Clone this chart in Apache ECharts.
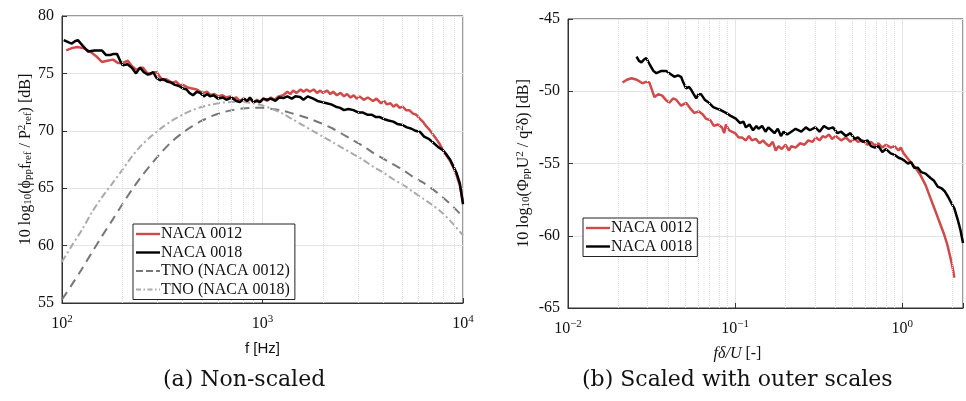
<!DOCTYPE html>
<html>
<head>
<meta charset="utf-8">
<script src="https://cdn.jsdelivr.net/npm/echarts@6/dist/echarts.min.js"></script>
<style>
  html, body { margin: 0; padding: 0; background: #fff; }
  #chart { width: 966px; height: 401px; }
</style>
</head>
<body>
<div id="chart"></div>
<script>
// (a) non-scaled spectra: [frequency Hz, dB]
var naca0012 = [
  [105, 77.0], [112, 77.2], [119, 77.3], [128, 77.2], [138, 76.9], [148, 76.5], [158, 76.0], [168, 76.1],
  [180, 76.2], [190, 75.9], [200, 75.9], [213, 76.1], [224, 75.6], [236, 75.3], [245, 75.5], [253, 75.5],
  [264, 75.1], [275, 74.9], [286, 75.1], [297, 75.1], [308, 74.7], [319, 74.4], [330, 74.5], [345, 74.3],
  [357, 74.2], [370, 74.3], [385, 74.0], [401, 74.0], [420, 73.8], [440, 73.7], [450, 73.6], [470, 73.6],
  [490, 73.4], [505, 73.3], [530, 73.4], [550, 73.1], [575, 73.2], [600, 73.0], [630, 73.1], [660, 72.9],
  [690, 73.0], [712, 72.8], [740, 72.9], [770, 72.6], [800, 72.8], [836, 72.6], [870, 72.8], [900, 72.5],
  [940, 72.7], [970, 72.5], [1010, 72.8], [1055, 72.6], [1100, 72.9], [1150, 72.7], [1200, 73.0], [1270, 73.1],
  [1330, 73.4], [1380, 73.2], [1420, 73.5], [1480, 73.3], [1550, 73.6], [1600, 73.4], [1660, 73.6], [1720, 73.4],
  [1800, 73.6], [1870, 73.3], [1940, 73.5], [2000, 73.3], [2100, 73.5], [2180, 73.2], [2250, 73.4], [2350, 73.1],
  [2450, 73.3], [2550, 73.0], [2640, 73.2], [2750, 72.9], [2850, 73.1], [2950, 72.8], [3050, 73.0], [3200, 72.7],
  [3350, 72.9], [3560, 72.6], [3700, 72.8], [3900, 72.4], [4050, 72.6], [4170, 72.3], [4350, 72.4], [4500, 72.1],
  [4650, 72.3], [4830, 72.0], [5000, 72.1], [5200, 71.8], [5400, 71.8], [5630, 71.5], [5850, 71.4], [6050, 71.1],
  [6300, 70.8], [6550, 70.4], [6800, 70.1], [7070, 69.7], [7350, 69.3], [7620, 68.9], [7950, 68.3], [8300, 67.8],
  [8620, 67.4], [8950, 66.8], [9300, 66.1], [9650, 65.2], [10000, 63.8]
]
var naca0018 = [
  [102, 77.9], [108, 77.7], [112, 77.6], [116, 77.8], [120, 77.9], [127, 77.4], [135, 76.9], [145, 77.0],
  [158, 77.0], [166, 76.6], [174, 76.6], [181, 76.7], [188, 76.7], [195, 76.1], [201, 75.7], [212, 75.8],
  [223, 75.5], [234, 75.0], [245, 75.5], [256, 75.1], [268, 74.9], [285, 75.1], [296, 74.6], [308, 74.4],
  [320, 74.5], [334, 74.3], [350, 74.2], [366, 74.0], [383, 73.9], [401, 73.7], [418, 73.6], [432, 73.3],
  [450, 73.1], [470, 73.4], [488, 73.3], [510, 73.0], [530, 73.2], [547, 73.0], [570, 73.1], [600, 72.8],
  [635, 72.9], [660, 72.7], [700, 72.9], [740, 72.6], [772, 72.5], [810, 72.8], [840, 72.6], [865, 72.9],
  [900, 72.5], [940, 72.6], [970, 72.5], [1010, 72.8], [1055, 72.7], [1100, 72.8], [1160, 72.6], [1210, 72.9],
  [1270, 72.85], [1330, 73.0], [1400, 72.8], [1460, 73.0], [1540, 72.95], [1600, 72.7], [1680, 73.0], [1790, 72.8],
  [1880, 72.6], [1980, 72.5], [2090, 72.4], [2200, 72.3], [2320, 72.1], [2440, 72.0], [2550, 71.8], [2680, 71.9],
  [2840, 71.8], [3000, 71.6], [3150, 71.6], [3330, 71.4], [3500, 71.4], [3680, 71.2], [3850, 71.2], [4050, 71.0],
  [4250, 70.9], [4490, 70.8], [4700, 70.6], [5000, 70.5], [5250, 70.3], [5500, 70.2], [5800, 70.0], [6100, 69.9],
  [6400, 69.5], [6750, 69.3], [7070, 69.0], [7500, 68.6], [7950, 68.3], [8300, 67.9], [8620, 67.5], [8950, 66.9],
  [9300, 66.3], [9650, 65.4], [10000, 63.6]
]
var tno0012 = [
  [100, 55.3], [112, 56.6], [125, 57.9], [141, 59.4], [158, 60.8], [178, 62.2], [200, 63.6], [224, 64.9],
  [251, 66.1], [282, 67.2], [316, 68.2], [355, 69.1], [398, 69.8], [447, 70.4], [501, 70.9], [562, 71.3],
  [631, 71.6], [708, 71.8], [794, 71.95], [891, 72.0], [1000, 72.0], [1122, 71.9], [1259, 71.75], [1413, 71.5],
  [1585, 71.25], [1778, 70.95], [1995, 70.6], [2239, 70.2], [2512, 69.7], [2818, 69.2], [3162, 68.7], [3548, 68.1],
  [3981, 67.6], [4467, 67.1], [5012, 66.6], [5623, 66.0], [6310, 65.5], [7079, 64.9], [7943, 64.2], [8913, 63.4],
  [10000, 62.5]
]
var tno0018 = [
  [100, 58.6], [112, 60.0], [125, 61.3], [141, 62.9], [158, 64.2], [178, 65.4], [200, 66.6], [224, 67.8],
  [251, 68.8], [282, 69.6], [316, 70.3], [355, 70.9], [398, 71.4], [447, 71.8], [501, 72.1], [562, 72.3],
  [631, 72.45], [708, 72.5], [794, 72.5], [891, 72.4], [1000, 72.2], [1122, 71.9], [1259, 71.5], [1413, 71.0],
  [1585, 70.5], [1778, 70.0], [1995, 69.5], [2239, 69.0], [2512, 68.5], [2818, 68.0], [3162, 67.5], [3548, 66.9],
  [3981, 66.4], [4467, 65.8], [5012, 65.3], [5623, 64.7], [6310, 64.1], [7079, 63.5], [7943, 62.8], [8913, 61.9],
  [10000, 60.9]
]

// (b) scaled with outer scales: [f delta / U, dB]
var scaled0012 = [
  [0.0212, -49.4], [0.0225, -49.2], [0.0240, -49.1], [0.0258, -49.2], [0.0279, -49.45], [0.0292, -49.35],
  [0.0307, -49.4], [0.0318, -49.9], [0.0329, -50.4], [0.0347, -50.2], [0.0366, -50.3], [0.0385, -50.6],
  [0.0404, -50.8], [0.0425, -50.5], [0.0445, -50.6], [0.0475, -51.0], [0.0509, -50.8], [0.0540, -51.2],
  [0.0569, -51.5], [0.0608, -51.4], [0.0640, -51.6], [0.0670, -51.9], [0.0710, -52.0], [0.0746, -52.4],
  [0.0790, -52.3], [0.0834, -52.5], [0.0860, -52.9], [0.0881, -52.3], [0.0920, -52.7], [0.0955, -52.8],
  [0.100, -52.9], [0.105, -53.2], [0.110, -53.2], [0.116, -53.4], [0.121, -53.1], [0.126, -53.4],
  [0.133, -53.3], [0.140, -53.6], [0.147, -53.4], [0.152, -53.6], [0.160, -53.8], [0.168, -53.5],
  [0.175, -54.1], [0.182, -53.8], [0.190, -54.0], [0.200, -53.7], [0.210, -54.1], [0.217, -53.8],
  [0.230, -53.9], [0.245, -53.6], [0.260, -53.7], [0.274, -53.4], [0.290, -53.5], [0.305, -53.2],
  [0.320, -53.4], [0.335, -53.1], [0.346, -53.2], [0.365, -53.0], [0.380, -53.3], [0.400, -53.1],
  [0.431, -53.4], [0.460, -53.2], [0.490, -53.5], [0.520, -53.3], [0.543, -53.5], [0.580, -53.4],
  [0.620, -53.7], [0.650, -53.5], [0.685, -53.75], [0.720, -53.6], [0.760, -53.9], [0.800, -53.7],
  [0.853, -53.9], [0.900, -53.8], [0.950, -54.1], [0.980, -53.9], [1.02, -54.3], [1.07, -54.6],
  [1.12, -54.9], [1.20, -55.3], [1.285, -55.8], [1.38, -56.5], [1.476, -57.4], [1.58, -58.3],
  [1.69, -59.2], [1.78, -59.9], [1.86, -60.6], [1.95, -61.6], [2.01, -62.3], [2.05, -62.9]
]
var scaled0018 = [
  [0.0257, -47.6], [0.0266, -47.9], [0.0275, -48.0], [0.0285, -47.8], [0.0294, -47.7], [0.0310, -48.2],
  [0.0325, -48.6], [0.0338, -48.75], [0.0360, -48.6], [0.0387, -48.6], [0.0410, -48.8], [0.0433, -49.0],
  [0.0455, -48.9], [0.0475, -49.0], [0.0490, -49.4], [0.0509, -49.8], [0.0530, -49.7], [0.0546, -49.9],
  [0.0565, -50.2], [0.0585, -50.5], [0.0605, -50.2], [0.0625, -50.2], [0.0660, -50.6], [0.0698, -50.8],
  [0.0740, -51.1], [0.0778, -51.2], [0.0820, -51.3], [0.0881, -51.5], [0.0940, -51.7], [0.101, -51.9],
  [0.107, -52.2], [0.112, -52.1], [0.116, -52.5], [0.122, -52.3], [0.128, -52.7], [0.134, -52.4],
  [0.138, -52.6], [0.145, -52.4], [0.152, -52.8], [0.158, -52.5], [0.165, -52.7], [0.172, -52.9],
  [0.180, -52.6], [0.188, -53.1], [0.195, -52.8], [0.205, -53.0], [0.217, -52.8], [0.230, -52.6],
  [0.249, -52.8], [0.265, -52.5], [0.280, -52.7], [0.302, -52.5], [0.320, -52.8], [0.340, -52.4],
  [0.361, -52.6], [0.385, -52.5], [0.410, -52.9], [0.431, -52.8], [0.460, -53.1], [0.490, -52.9],
  [0.520, -53.3], [0.543, -53.2], [0.580, -53.5], [0.620, -53.4], [0.650, -53.8], [0.685, -53.9],
  [0.720, -53.8], [0.760, -54.2], [0.800, -54.0], [0.853, -54.3], [0.900, -54.4], [0.950, -54.6],
  [1.00, -54.7], [1.03, -54.8], [1.08, -55.0], [1.13, -54.9], [1.18, -55.3], [1.24, -55.3],
  [1.30, -55.6], [1.38, -55.7], [1.476, -56.0], [1.55, -56.2], [1.63, -56.6], [1.71, -56.7],
  [1.79, -56.9], [1.88, -57.3], [1.96, -57.7], [2.05, -58.1], [2.15, -58.9], [2.23, -59.6], [2.31, -60.5]
]

// minor (dotted) grid lines of the log axes
var minorLeft = [200, 300, 400, 500, 600, 700, 800, 900, 2000, 3000, 4000, 5000, 6000, 7000, 8000, 9000]
var minorRight = [0.02, 0.03, 0.04, 0.05, 0.06, 0.07, 0.08, 0.09, 0.2, 0.3, 0.4, 0.5, 0.6, 0.7, 0.8, 0.9, 2]

var serif = '"Liberation Serif", "DejaVu Serif", serif'
var red = '#cf4a4a'

// legend icons: plain line samples (solid, dashed, dash-dot)
var iconSolid = 'path://M0,0h24v2.4h-24z'
var iconDash = 'path://M0,0h7v2h-7z M10,0h7v2h-7z M20,0h4v2h-4z'
var iconDashDot = 'path://M0,0h5v2h-5z M7.5,0h1.5v2h-1.5z M11.5,0h5v2h-5z M19,0h1.5v2h-1.5z M23,0h1v2h-1z'

function powLabel(v) {
  var e = Math.log10(v)
  if (Math.abs(e - Math.round(e)) > 1e-6) return ''
  e = Math.round(e)
  return '{b|10}{s|' + (e < 0 ? '\u2212' + (-e) : e) + '}'
}
var powRich = {
  b: { fontFamily: serif, fontSize: 16, color: '#111', lineHeight: 20 },
  s: { fontFamily: serif, fontSize: 11, color: '#111', lineHeight: 20, verticalAlign: 'top', padding: [0, 0, 8, 0] }
}

function xLog(gridIndex, min, max, name, nameStyle) {
  return {
    type: 'log', logBase: 10, gridIndex: gridIndex, min: min, max: max,
    name: name, nameLocation: 'middle', nameGap: 38, nameTextStyle: nameStyle,
    axisLine: { show: true, lineStyle: { color: '#333', width: 1 } },
    axisTick: { show: true, inside: true, length: 5, lineStyle: { color: '#333' } },
    axisLabel: { formatter: powLabel, rich: powRich, margin: 11, showMaxLabel: true },
    splitLine: { show: true, lineStyle: { color: '#e4e4e4', width: 1 } }
  }
}
function yVal(gridIndex, min, max, name, nameStyle, gap) {
  return {
    type: 'value', gridIndex: gridIndex, min: min, max: max, interval: 5,
    name: name, nameLocation: 'middle', nameGap: gap, nameRotate: 90, nameTextStyle: nameStyle,
    axisLine: { show: true, lineStyle: { color: '#333', width: 1 } },
    axisTick: { show: true, inside: true, length: 5, lineStyle: { color: '#333' } },
    axisLabel: { fontFamily: serif, fontSize: 16, color: '#111', margin: 8 },
    splitLine: { show: true, lineStyle: { color: '#e4e4e4', width: 1 } }
  }
}
function minorLines(vals) {
  return {
    silent: true, symbol: 'none', label: { show: false },
    lineStyle: { color: '#dcdcdc', type: 'dotted', width: 1 },
    emphasis: { disabled: true },
    data: vals.map(function (v) { return { xAxis: v } })
  }
}
function legendBox(left, top, items) {
  return {
    left: left, top: top, orient: 'vertical', itemWidth: 24, itemHeight: 2.4, itemGap: 2.5, z: 20,
    backgroundColor: '#fff', borderColor: '#222', borderWidth: 1, borderRadius: 0, padding: [2, 5, 2, 3],
    textStyle: { fontFamily: serif, fontSize: 16, color: '#111', padding: [0, 0, 0, -4] },
    data: items,
    formatter: function (n) { return n.trim() }
  }
}

var nameY = {
  fontFamily: serif, fontSize: 16, color: '#111',
  rich: {
    sub: { fontFamily: serif, fontSize: 11, color: '#111', verticalAlign: 'bottom', padding: [6, 0, 0, 0] },
    sup: { fontFamily: serif, fontSize: 11, color: '#111', verticalAlign: 'top', padding: [0, 0, 6, 0] }
  }
}

var chart = echarts.init(document.getElementById('chart'), null, { renderer: 'canvas' })
chart.setOption({
  animation: false,
  backgroundColor: '#fff',
  grid: [
    { left: 62, top: 16, width: 401, height: 287, show: true, borderColor: '#333', borderWidth: 1, backgroundColor: 'transparent' },
    { left: 568, top: 19, width: 400, height: 289, show: true, borderColor: '#333', borderWidth: 1, backgroundColor: 'transparent' }
  ],
  xAxis: [
    xLog(0, 100, 10000, 'f [Hz]', { fontFamily: '"Liberation Sans", Arial, sans-serif', fontSize: 15, color: '#111' }),
    xLog(1, 0.01, 2.31, '{i|f\u03b4/U} [-]', { fontFamily: serif, fontSize: 16, color: '#111', padding: [0, 56, 0, 0],
      rich: { i: { fontFamily: serif, fontStyle: 'italic', fontSize: 16, color: '#111' } } })
  ],
  yAxis: [
    yVal(0, 55, 80, '10 log{sub|10}(\u03d5{sub|pp}f{sub|ref} / P{sup|2}{sub|ref}) [dB]', nameY, 28),
    yVal(1, -65, -45, '10 log{sub|10}(\u03a6{sub|pp}U{sup|2} / q{sup|2}\u03b4) [dB]', nameY, 36)
  ],
  legend: [
    legendBox(133, 224, [
      { name: 'NACA 0012', icon: iconSolid },
      { name: 'NACA 0018', icon: iconSolid },
      { name: 'TNO (NACA 0012)', icon: iconDash },
      { name: 'TNO (NACA 0018)', icon: iconDashDot }
    ]),
    legendBox(583, 218, [
      { name: 'NACA 0012 ', icon: iconSolid },
      { name: 'NACA 0018 ', icon: iconSolid }
    ])
  ],
  graphic: [
    { type: 'text', left: 163, top: 369, style: { text: '(a) Non-scaled', fontFamily: '"DejaVu Serif", serif', fontSize: 22, fill: '#111' } },
    { type: 'text', left: 582, top: 369, style: { text: '(b) Scaled with outer scales', fontFamily: '"DejaVu Serif", serif', fontSize: 22, fill: '#111' } }
  ],
  series: [
    { name: 'TNO (NACA 0012)', type: 'line', xAxisIndex: 0, yAxisIndex: 0, data: tno0012, symbol: 'none', smooth: 0.3,
      lineStyle: { color: '#777', width: 2, type: [9, 6] }, itemStyle: { color: '#777' }, markLine: minorLines(minorLeft), z: 2 },
    { name: 'TNO (NACA 0018)', type: 'line', xAxisIndex: 0, yAxisIndex: 0, data: tno0018, symbol: 'none', smooth: 0.3,
      lineStyle: { color: '#aaa', width: 2, type: [7, 3, 2, 3] }, itemStyle: { color: '#aaa' }, z: 2 },
    { name: 'NACA 0012', type: 'line', xAxisIndex: 0, yAxisIndex: 0, data: naca0012, symbol: 'none',
      lineStyle: { color: red, width: 2.5 }, itemStyle: { color: red }, z: 3 },
    { name: 'NACA 0018', type: 'line', xAxisIndex: 0, yAxisIndex: 0, data: naca0018, symbol: 'none',
      lineStyle: { color: '#000', width: 2.5 }, itemStyle: { color: '#000' }, z: 4 },
    { name: 'NACA 0012 ', type: 'line', xAxisIndex: 1, yAxisIndex: 1, data: scaled0012, symbol: 'none',
      lineStyle: { color: red, width: 2.5 }, itemStyle: { color: red }, markLine: minorLines(minorRight), z: 3 },
    { name: 'NACA 0018 ', type: 'line', xAxisIndex: 1, yAxisIndex: 1, data: scaled0018, symbol: 'none',
      lineStyle: { color: '#000', width: 2.5 }, itemStyle: { color: '#000' }, z: 4 }
  ]
})
</script>
</body>
</html>
